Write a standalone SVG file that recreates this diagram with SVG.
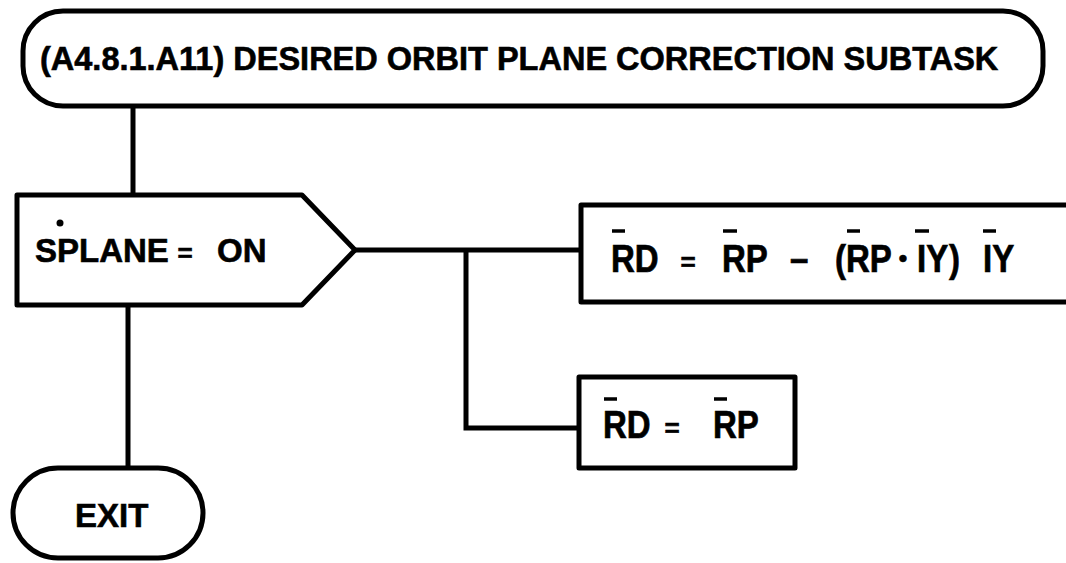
<svg xmlns="http://www.w3.org/2000/svg" width="1066" height="563" viewBox="0 0 1066 563">
<style>
.shape{fill:#fff;stroke:#000;stroke-width:5;stroke-linejoin:round}
.conn{fill:none;stroke:#000;stroke-width:5}
.bar{stroke:#000;stroke-width:3.5;stroke-linecap:butt}
text{font-family:"Liberation Sans",Arial,Helvetica,sans-serif;font-weight:bold;font-size:33px;fill:#000;stroke:#000;stroke-width:0.6}
.mid{text-anchor:middle}
.eq{font-size:26px}
.dot{font-size:24px}
</style>
<rect width="1066" height="563" fill="#fff"/>
<g id="connectors">
<line class="conn" x1="133" y1="106" x2="133" y2="195"/>
<line class="conn" x1="128" y1="305" x2="128" y2="468"/>
<line class="conn" x1="355" y1="250" x2="581" y2="250"/>
<polyline class="conn" points="466,250 466,428 579,428"/>
</g>
<g id="start">
<rect class="shape" x="23" y="11" width="1020" height="95" rx="40" ry="40"/>
<text x="40" y="70" style="font-size:32.5px">(A4.8.1.A11) DESIRED ORBIT PLANE CORRECTION SUBTASK</text>
</g>
<g id="decision">
<polygon class="shape" points="17,195 302,195 355,250 302,305 17,305"/>
<text x="35" y="262">SPLANE</text>
<text class="mid eq" x="185" y="262">=</text>
<text x="217" y="262">ON</text>
<circle cx="60" cy="223" r="3.5" fill="#000"/>
</g>
<g id="yes-box">
<rect class="shape" x="581" y="205" width="495" height="97"/>
<text transform="translate(611,272) scale(1,1.18)">RD</text>
<text class="mid eq" x="688" y="271">=</text>
<text transform="translate(722,272) scale(1,1.18)">RP</text>
<text transform="translate(790,272) scale(1,1.18)">–</text>
<text transform="translate(835,272) scale(1,1.18)">(</text>
<text transform="translate(846,272) scale(1,1.18)">RP</text>
<text class="mid dot" x="903" y="266">•</text>
<text transform="translate(917,272) scale(1,1.18)">IY</text>
<text transform="translate(949,272) scale(1,1.18)">)</text>
<text transform="translate(983,272) scale(1,1.18)">IY</text>
<line class="bar" x1="612" y1="231" x2="625" y2="231"/>
<line class="bar" x1="723" y1="231" x2="737" y2="231"/>
<line class="bar" x1="847" y1="231" x2="860" y2="231"/>
<line class="bar" x1="915" y1="231" x2="929" y2="231"/>
<line class="bar" x1="983" y1="231" x2="996" y2="231"/>
</g>
<g id="no-box">
<rect class="shape" x="579" y="377" width="216" height="91"/>
<text transform="translate(603,438) scale(1,1.18)">RD</text>
<text class="mid eq" x="672" y="437">=</text>
<text transform="translate(713,438) scale(1,1.18)">RP</text>
<line class="bar" x1="604" y1="399" x2="617" y2="399"/>
<line class="bar" x1="714" y1="399" x2="727" y2="399"/>
</g>
<g id="exit">
<rect class="shape" x="13" y="468" width="190" height="90" rx="45" ry="45"/>
<text x="75" y="527">EXIT</text>
</g>
</svg>
